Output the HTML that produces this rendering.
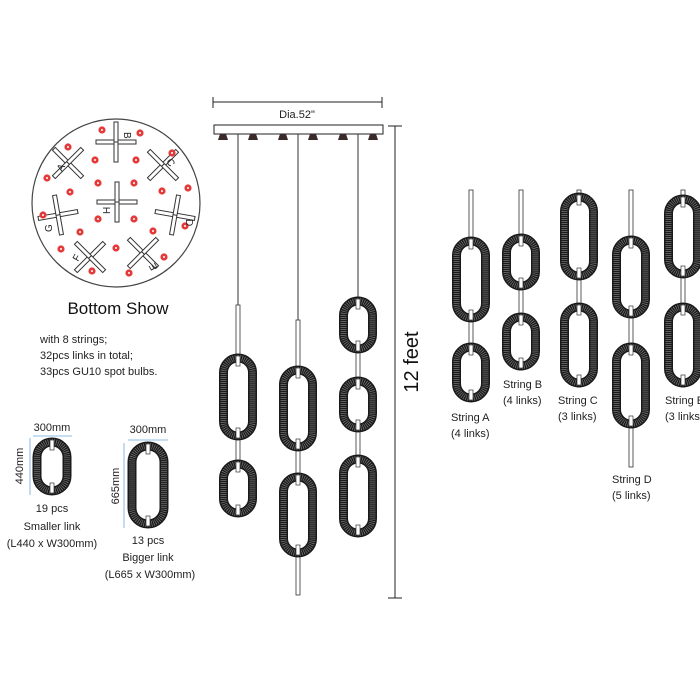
<!DOCTYPE html>
<html><head><meta charset="utf-8"><style>
html,body{margin:0;padding:0;background:#fff;}
svg{display:block;font-family:"Liberation Sans",Arial,sans-serif;}
</style></head><body>
<svg id="s" width="700" height="700" viewBox="0 0 700 700" xmlns="http://www.w3.org/2000/svg">
<rect width="700" height="700" fill="#fff"/>
<circle cx="116" cy="203" r="84" fill="none" stroke="#444" stroke-width="1.2"/>
<g id="crosses" fill="#fff" stroke="#333" stroke-width="1"></g>
<g id="dots"></g>
<g font-size="10" fill="#222">
<text transform="translate(124,132) rotate(90)">B</text>
<text transform="translate(62,172) rotate(-60)">A</text>
<text transform="translate(166,161) rotate(60)">C</text>
<text transform="translate(186,219) rotate(90)">D</text>
<text transform="translate(156,265) rotate(-120)" text-anchor="middle">E</text>
<text transform="translate(78,262) rotate(-60)">F</text>
<text transform="translate(52,232) rotate(-90)">G</text>
<text transform="translate(110,214) rotate(-90)">H</text>
</g>
<text x="118" y="314" font-size="17" text-anchor="middle" fill="#111">Bottom Show</text>
<g font-size="11" fill="#222">
<text x="40" y="343">with 8 strings;</text>
<text x="40" y="359">32pcs links in total;</text>
<text x="40" y="375">33pcs GU10 spot bulbs.</text>
</g>
<g stroke="#222" stroke-width="1">
<line x1="213" y1="102" x2="382" y2="102"/><line x1="213" y1="97" x2="213" y2="108"/><line x1="382" y1="97" x2="382" y2="108"/>
<rect x="214" y="125" width="169" height="9" fill="#fff"/>
<line x1="395" y1="126" x2="395" y2="598"/><line x1="388" y1="126" x2="402" y2="126"/><line x1="388" y1="598" x2="402" y2="598"/>
</g>
<text x="297" y="118" font-size="11" text-anchor="middle" fill="#222">Dia.52"</text>
<text transform="translate(418,362) rotate(-90)" font-size="20" text-anchor="middle" fill="#111">12 feet</text>
<g id="bulbs" fill="#3a2a2a"></g>
<g id="links"></g>
<g stroke="#6aa8dd" stroke-width="0.8" fill="none">
<line x1="33" y1="436" x2="72" y2="436"/><line x1="30" y1="438" x2="30" y2="495"/>
<line x1="128" y1="440" x2="168" y2="440"/><line x1="124" y1="443" x2="124" y2="528"/>
</g>
<g font-size="11" fill="#222">
<text x="52" y="431" text-anchor="middle">300mm</text>
<text transform="translate(23,466) rotate(-90)" text-anchor="middle">440mm</text>
<text x="52" y="512" text-anchor="middle">19 pcs</text>
<text x="52" y="530" text-anchor="middle">Smaller link</text>
<text x="52" y="547" text-anchor="middle">(L440 x W300mm)</text>
<text x="148" y="433" text-anchor="middle">300mm</text>
<text transform="translate(119,486) rotate(-90)" text-anchor="middle">665mm</text>
<text x="148" y="544" text-anchor="middle">13 pcs</text>
<text x="148" y="561" text-anchor="middle">Bigger link</text>
<text x="150" y="578" text-anchor="middle">(L665 x W300mm)</text>
<text x="451" y="421">String A</text><text x="451" y="437">(4 links)</text>
<text x="503" y="388">String B</text><text x="503" y="404">(4 links)</text>
<text x="558" y="404">String C</text><text x="558" y="420">(3 links)</text>
<text x="612" y="483">String D</text><text x="612" y="499">(5 links)</text>
<text x="665" y="404">String E</text><text x="665" y="420">(3 links)</text>
</g>
</svg>
<script>
var NS="http://www.w3.org/2000/svg";
function el(p,t,a){var e=document.createElementNS(NS,t);for(var k in a)e.setAttribute(k,a[k]);p.appendChild(e);return e;}
var cr=document.getElementById('crosses');
[[116,142,0],[68,163,45],[163,165,-45],[175,215,10],[143,253,45],[90,257,-45],[58,215,-10],[117,202,0]].forEach(function(c){
 var g=el(cr,'g',{transform:'translate('+c[0]+','+c[1]+') rotate('+c[2]+')'});
 el(g,'rect',{x:-20,y:-2,width:40,height:4});el(g,'rect',{x:-2,y:-20,width:4,height:40});
 el(g,'line',{x1:-2,y1:0,x2:2,y2:0});
});
var dt=document.getElementById('dots');
[[102,130],[140,133],[68,147],[95,160],[136,160],[172,153],[47,178],[70,192],[98,183],[134,183],[162,191],[188,188],[43,215],[98,219],[134,219],[185,226],[80,232],[153,231],[61,249],[116,248],[164,257],[92,271],[129,273]].forEach(function(d){
 el(dt,'circle',{cx:d[0],cy:d[1],r:3.6,fill:'#e43a3a'});el(dt,'circle',{cx:d[0],cy:d[1],r:1,fill:'#fff'});
});
var b=document.getElementById('bulbs');
[223,253,283,313,343,373].forEach(function(x){el(b,'path',{d:'M'+(x-3)+' 134 h6 l2 6 h-10 z'});});
var L=document.getElementById('links');
function rod(x,y1,y2){el(L,'rect',{x:x-2,y:y1,width:4,height:y2-y1,fill:'#fff',stroke:'#333','stroke-width':0.8});}
function wire(x,y1,y2){el(L,'line',{x1:x,y1:y1,x2:x,y2:y2,stroke:'#333','stroke-width':1});}
function link(cx,y1,y2,w){w=w||37;var x=cx-w/2+4,h=y2-y1-8,ww=w-8;
 el(L,'rect',{x:x,y:y1+4,width:ww,height:h,rx:ww/2,fill:'#fff',stroke:'#1a1a1a','stroke-width':9});
 el(L,'rect',{x:x,y:y1+4,width:ww,height:h,rx:ww/2,fill:'none',stroke:'#777','stroke-width':6,'stroke-dasharray':'0.7 1.3'});
 el(L,'rect',{x:cx-2,y:y1+2,width:4,height:10,fill:'#fff',stroke:'#333','stroke-width':0.7});
 el(L,'rect',{x:cx-2,y:y2-12,width:4,height:10,fill:'#fff',stroke:'#333','stroke-width':0.7});
}
wire(238,134,305);rod(238,305,460);link(238,354,440);link(238,460,517);
wire(298,134,320);rod(298,320,595);link(298,366,451);link(298,473,557);
wire(358,134,297);rod(358,297,530);link(358,297,353);link(358,377,432);link(358,455,537);
rod(471,190,400);link(471,237,322);link(471,343,402);
rod(521,190,370);link(521,234,290);link(521,313,370);
rod(579,190,387);link(579,193,280);link(579,303,387);
rod(631,190,467);link(631,236,318);link(631,343,428);
rod(683,190,387);link(683,195,278);link(683,303,387);
link(52,438,495,38);link(148,442,528,40);
</script>
</body></html>
